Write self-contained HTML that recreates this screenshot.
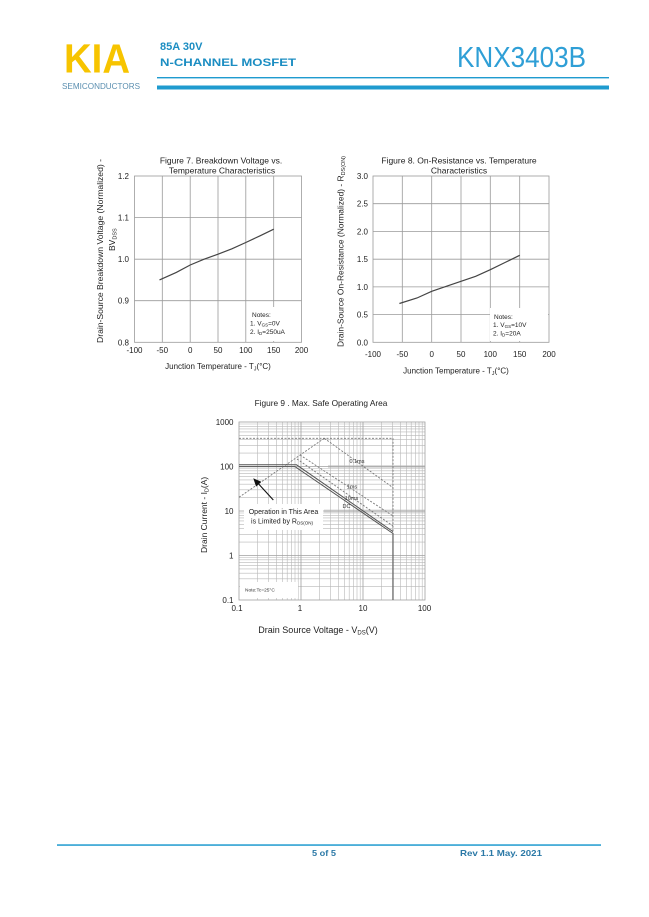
<!DOCTYPE html>
<html><head><meta charset="utf-8"><style>
html,body{margin:0;padding:0;background:#fff;}
svg{display:block;}
text{font-family:"Liberation Sans",Arial,sans-serif;}
</style></head><body>
<svg width="649" height="917" viewBox="0 0 649 917" xmlns="http://www.w3.org/2000/svg">
<rect width="649" height="917" fill="#fff"/>

<!-- HEADER -->
<text x="64" y="72.5" font-size="41" font-weight="bold" fill="#F7C400" textLength="66" lengthAdjust="spacingAndGlyphs">KIA</text>
<text x="62" y="89" font-size="8.3" fill="#5b8fb0" textLength="78" lengthAdjust="spacingAndGlyphs">SEMICONDUCTORS</text>
<text x="160" y="50" font-size="11" font-weight="bold" fill="#1b8dc2">85A 30V</text>
<text x="160" y="66" font-size="11" font-weight="bold" fill="#1b8dc2" textLength="136" lengthAdjust="spacingAndGlyphs">N-CHANNEL MOSFET</text>
<text x="457" y="67" font-size="29" fill="#2f9fd6" textLength="129" lengthAdjust="spacingAndGlyphs">KNX3403B</text>
<rect x="157" y="77" width="452" height="1.4" fill="#1f9bcf"/>
<rect x="157" y="85.5" width="452" height="4" fill="#1f9bcf"/>

<!-- FIGURE 7 -->
<g font-size="8" fill="#222">
<text x="221" y="163.5" font-size="8.5" text-anchor="middle">Figure 7. Breakdown Voltage vs.</text>
<text x="222" y="173.5" font-size="8.5" text-anchor="middle">Temperature Characteristics</text>
</g>
<g stroke="#9a9a9a" stroke-width="0.8" fill="none">
<rect x="134.5" y="176" width="167" height="166.3"/>
<path d="M162.3 176V342.3M190.2 176V342.3M218 176V342.3M245.8 176V342.3M273.7 176V342.3M134.5 217.6H301.5M134.5 259.2H301.5M134.5 300.7H301.5"/>
</g>
<rect x="248" y="307" width="52" height="34" fill="#fff"/>
<polyline fill="none" stroke="#444" stroke-width="1.2" points="159.5,279.9 176.3,272.4 190.2,265 204.1,259.2 218,254.2 231.9,248.8 245.8,242.5 259.8,235.9 273.7,229.2"/>
<g font-size="8" fill="#222" text-anchor="end">
<text x="129" y="179">1.2</text>
<text x="129" y="220.6">1.1</text>
<text x="129" y="262.2">1.0</text>
<text x="129" y="303.7">0.9</text>
<text x="129" y="345.3">0.8</text>
</g>
<g font-size="8" fill="#222" text-anchor="middle">
<text x="134.5" y="353">-100</text>
<text x="162.3" y="353">-50</text>
<text x="190.2" y="353">0</text>
<text x="218" y="353">50</text>
<text x="245.8" y="353">100</text>
<text x="273.7" y="353">150</text>
<text x="301.5" y="353">200</text>
<text x="218" y="369">Junction Temperature - T<tspan font-size="5.5" dy="1.5">J</tspan><tspan dy="-1.5">(°C)</tspan></text>
</g>
<g font-size="6.5" fill="#222">
<text x="252" y="317">Notes:</text>
<text x="250" y="325.5">1. V<tspan font-size="4.5" dy="1">GS</tspan><tspan dy="-1">=0V</tspan></text>
<text x="250" y="334">2. I<tspan font-size="4.5" dy="1">D</tspan><tspan dy="-1">=250uA</tspan></text>
</g>
<text transform="translate(103,343) rotate(-90)" font-size="8.5" fill="#222" textLength="184" lengthAdjust="spacingAndGlyphs">Drain-Source Breakdown Voltage (Normalized) -</text>
<text transform="translate(115,251) rotate(-90)" font-size="8.5" fill="#222">BV<tspan font-size="5.5" dy="1.5">DSS</tspan></text>

<!-- FIGURE 8 -->
<g font-size="8.5" fill="#222" text-anchor="middle">
<text x="459" y="163.5">Figure 8. On-Resistance vs. Temperature</text>
<text x="459" y="173.5">Characteristics</text>
</g>
<g stroke="#9a9a9a" stroke-width="0.8" fill="none">
<rect x="373" y="176" width="176" height="166.3"/>
<path d="M402.3 176V342.3M431.7 176V342.3M461 176V342.3M490.3 176V342.3M519.7 176V342.3M373 203.7H549M373 231.4H549M373 259.2H549M373 286.9H549M373 314.6H549"/>
</g>
<rect x="490" y="308" width="58" height="33" fill="#fff"/>
<polyline fill="none" stroke="#444" stroke-width="1.2" points="399.4,303.5 417,298 431.7,291.3 446.3,286.3 461,281.3 475.7,276.3 490.3,269.7 505,262.5 519.7,255.3"/>
<g font-size="8" fill="#222" text-anchor="end">
<text x="368" y="179">3.0</text>
<text x="368" y="206.7">2.5</text>
<text x="368" y="234.4">2.0</text>
<text x="368" y="262.2">1.5</text>
<text x="368" y="289.9">1.0</text>
<text x="368" y="317.6">0.5</text>
<text x="368" y="345.3">0.0</text>
</g>
<g font-size="8" fill="#222" text-anchor="middle">
<text x="373" y="357">-100</text>
<text x="402.3" y="357">-50</text>
<text x="431.7" y="357">0</text>
<text x="461" y="357">50</text>
<text x="490.3" y="357">100</text>
<text x="519.7" y="357">150</text>
<text x="549" y="357">200</text>
<text x="456" y="373.5">Junction Temperature - T<tspan font-size="5.5" dy="1.5">J</tspan><tspan dy="-1.5">(°C)</tspan></text>
</g>
<g font-size="6.5" fill="#222">
<text x="494" y="319">Notes:</text>
<text x="493" y="327">1. V<tspan font-size="4.5" dy="1">GS</tspan><tspan dy="-1">=10V</tspan></text>
<text x="493" y="335.3">2. I<tspan font-size="4.5" dy="1">D</tspan><tspan dy="-1">=20A</tspan></text>
</g>
<text transform="translate(343.5,347) rotate(-90)" font-size="8.5" fill="#222" textLength="191" lengthAdjust="spacingAndGlyphs">Drain-Source On-Resistance (Normalized) - R<tspan font-size="5.5" dy="1.5">DS(ON)</tspan></text>

<!-- FIGURE 9 -->
<text x="321" y="406" font-size="8.3" fill="#222" text-anchor="middle">Figure 9 . Max. Safe Operating Area</text>
<rect x="328" y="465" width="97" height="3" fill="#dcdcdc"/>
<rect x="324" y="509.5" width="101" height="3" fill="#dcdcdc"/>
<g stroke="#b8b8b8" stroke-width="0.6" fill="none">
<path d="M257.7 422V600M268.6 422V600M276.3 422V600M282.3 422V600M287.2 422V600M291.4 422V600M295 422V600M298.2 422V600
M319.7 422V600M330.6 422V600M338.3 422V600M344.3 422V600M349.2 422V600M353.4 422V600M357 422V600M360.2 422V600
M381.7 422V600M392.6 422V600M400.3 422V600M406.3 422V600M411.2 422V600M415.4 422V600M419 422V600M422.2 422V600
M239 586.6H425M239 578.8H425M239 573.2H425M239 568.9H425M239 565.4H425M239 562.4H425M239 559.8H425M239 557.5H425
M239 542.1H425M239 534.3H425M239 528.7H425M239 524.4H425M239 520.9H425M239 517.9H425M239 515.3H425M239 513H425
M239 497.6H425M239 489.8H425M239 484.2H425M239 479.9H425M239 476.4H425M239 473.4H425M239 470.8H425M239 468.5H425
M239 453.1H425M239 445.3H425M239 439.7H425M239 435.4H425M239 431.9H425M239 428.9H425M239 426.3H425M239 424H425"/>
</g>
<g stroke="#a0a0a0" stroke-width="0.8" fill="none">
<rect x="239" y="422" width="186" height="178"/>
<path d="M301 422V600M363 422V600M239 466.5H425M239 511H425M239 555.5H425"/>
</g>
<!-- series -->
<g fill="none" stroke="#777" stroke-width="0.9" stroke-dasharray="2,1.5">
<path d="M239 497.3L324.3 438.3"/>
<path d="M239 438.3H393"/>
<path d="M393 438.3V533"/>
<path d="M324.3 438.3L393 487.7"/>
<path d="M300 455L393 516"/>
<path d="M297 459L393 526"/>
</g>
<g fill="none" stroke="#555" stroke-width="1">
<path d="M239 464.8H296.5L393 531.6"/>
<path d="M239 466.6H295L393 533.5"/>
</g>
<path d="M393 533V600" stroke="#666" stroke-width="1.2"/>
<g font-size="5.5" fill="#333" text-anchor="middle">
<text x="357" y="463">0.1ms</text>
<text x="352" y="488.5">1ms</text>
<text x="351.5" y="500">10ms</text>
<text x="346.5" y="508">DC</text>
</g>
<!-- arrow -->
<path d="M273.3 500L257.5 482.8" stroke="#111" stroke-width="1.1"/>
<polygon points="253.3,478.3 261.3,481.8 256.1,486.6" fill="#111"/>
<!-- text box -->
<rect x="244" y="504" width="79" height="26" fill="#fff"/>
<g font-size="7" fill="#222" text-anchor="middle">
<text x="283.5" y="514">Operation in This Area</text>
<text x="282" y="523.5">is Limited by R<tspan font-size="4.5" dy="1">DS(ON)</tspan></text>
</g>
<rect x="240" y="582" width="58" height="16" fill="#fff"/>
<text x="245" y="591.5" font-size="4.8" fill="#333">Note:Tc=25°C</text>
<!-- ticks -->
<g font-size="8" fill="#222" text-anchor="end">
<text x="233.5" y="425">1000</text>
<text x="233.5" y="469.5">100</text>
<text x="233.5" y="514">10</text>
<text x="233.5" y="558.5">1</text>
<text x="233.5" y="603">0.1</text>
</g>
<g font-size="8" fill="#222" text-anchor="middle">
<text x="237" y="611">0.1</text>
<text x="300" y="611">1</text>
<text x="363" y="611">10</text>
<text x="424.5" y="611">100</text>
</g>
<text x="318" y="633" font-size="9" fill="#222" text-anchor="middle">Drain Source Voltage - V<tspan font-size="6" dy="1.5">DS</tspan><tspan dy="-1.5">(V)</tspan></text>
<text transform="translate(207,553) rotate(-90)" font-size="8.5" fill="#222">Drain Current - I<tspan font-size="5.5" dy="1.5">D</tspan><tspan dy="-1.5">(A)</tspan></text>

<!-- FOOTER -->
<rect x="57" y="844.3" width="544" height="1.5" fill="#1f9bcf"/>
<text x="312" y="856" font-size="8.5" font-weight="bold" fill="#2a78a6" textLength="24" lengthAdjust="spacingAndGlyphs">5 of 5</text>
<text x="460" y="856" font-size="8.5" font-weight="bold" fill="#2a78a6" textLength="82" lengthAdjust="spacingAndGlyphs">Rev 1.1 May. 2021</text>
</svg>
</body></html>
